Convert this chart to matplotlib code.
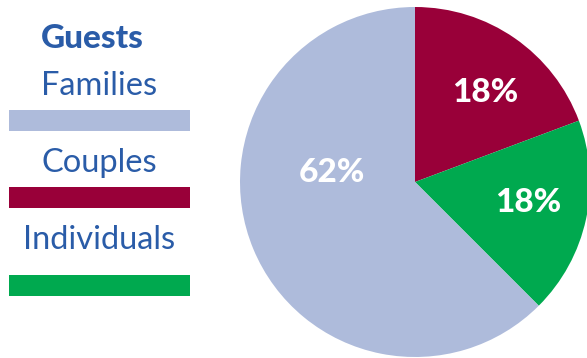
import matplotlib
matplotlib.use("Agg")
import matplotlib.pyplot as plt
from matplotlib.patches import Rectangle

# data
categories = ["Families", "Couples", "Individuals"]
shares = [62.5, 19.3, 18.2]
pct_labels = ["62%", "18%", "18%"]
colors = ["#AEBBDB", "#990039", "#00A94F"]
title = "Guests"
text_blue = "#2A5CA8"

W, H = 587, 358
fig = plt.figure(figsize=(W / 100, H / 100), dpi=100)

# pie, centre ~(415,182) px, radius ~175 px
r = 175
cx, cy = 415, 182
ax = fig.add_axes([(cx - r) / W, (H - cy - r) / H, 2 * r / W, 2 * r / H])
# draw clockwise from 12 o'clock: Couples, Individuals, Families
order = [1, 2, 0]
wedges, texts = ax.pie([shares[i] for i in order],
                       colors=[colors[i] for i in order],
                       startangle=90, counterclock=False,
                       wedgeprops=dict(linewidth=0))
ax.set_xlim(-1, 1)
ax.set_ylim(-1, 1)
ax.set_aspect("equal")
ax.axis("off")

# percentage labels (pixel positions)
lab_pos = {0: (332, 172), 1: (485, 93), 2: (528, 202)}
for i, (px, py) in lab_pos.items():
    fig.text(px / W, 1 - py / H, pct_labels[i], color="white",
             fontsize=24, fontweight=900, family="Lato",
             ha="center", va="center")

# legend on the left
leg = fig.add_axes([0, 0, 1, 1], facecolor="none")
leg.set_xlim(0, W)
leg.set_ylim(H, 0)
leg.axis("off")
leg.text(92, 38, title, color=text_blue, fontsize=24, fontweight=900,
         family="Lato", ha="center", va="center")
label_y = [86, 163, 240]
bar_y = [110, 187, 275]
for i, cat in enumerate(categories):
    leg.text(99, label_y[i], cat, color=text_blue, fontsize=23.5,
             family="Lato", ha="center", va="center")
    leg.add_patch(Rectangle((9, bar_y[i]), 181, 21, facecolor=colors[i],
                            edgecolor="none"))

fig.savefig("out.png", dpi=100)
